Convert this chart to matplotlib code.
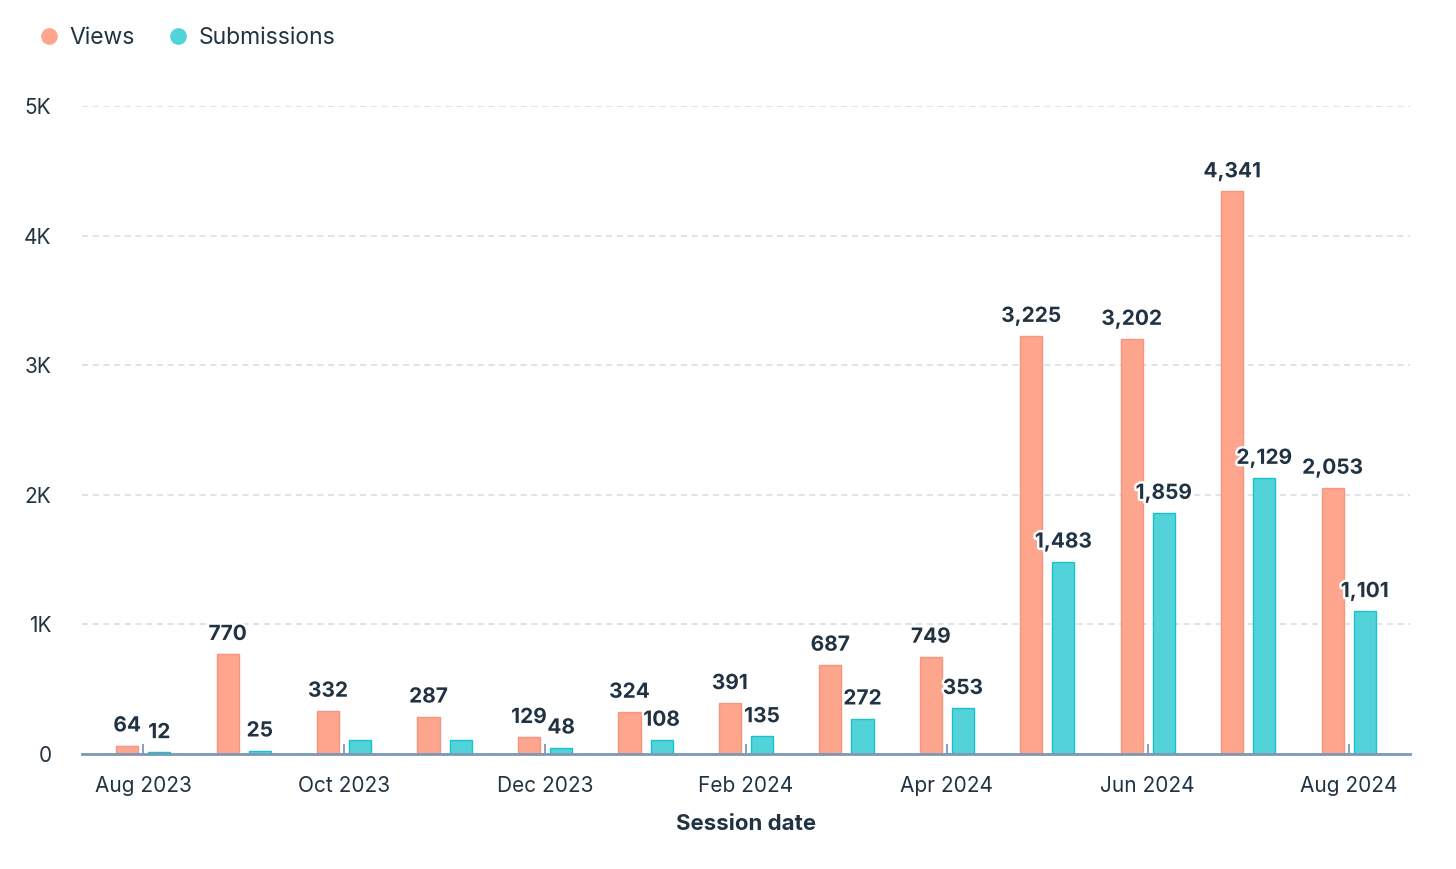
import matplotlib.pyplot as plt
import matplotlib.patheffects as pe
from matplotlib.lines import Line2D
import numpy as np

# data
months = ['Aug 2023', 'Sep 2023', 'Oct 2023', 'Nov 2023', 'Dec 2023', 'Jan 2024', 'Feb 2024',
          'Mar 2024', 'Apr 2024', 'May 2024', 'Jun 2024', 'Jul 2024', 'Aug 2024']
views = [64, 770, 332, 287, 129, 324, 391, 687, 749, 3225, 3202, 4341, 2053]
submissions = [12, 25, 110, 110, 48, 108, 135, 272, 353, 1483, 1859, 2129, 1101]
# submissions labels hidden in the reference (overlapping)
sub_hidden = [2, 3]
y_ticks = [0, 1000, 2000, 3000, 4000, 5000]
y_ticklabels = ['0', '1K', '2K', '3K', '4K', '5K']

plt.rcParams['font.family'] = ['Inter', 'DejaVu Sans']

text_color = '#213343'
axis_color = '#7C98B6'
views_color = '#FEA58E'
views_edge = '#F8957C'
subs_color = '#51D3D9'
subs_edge = '#17C3CB'

fig = plt.figure(figsize=(14.56, 8.69), dpi=100)
ax = fig.add_axes([0.0563, 0.1325, 0.9121, 0.7455])

x = np.arange(len(months))
w = 0.22
off = 0.16
ax.bar(x - off, views, w, color=views_color, edgecolor=views_edge, linewidth=1, zorder=3)
ax.bar(x + off, submissions, w, color=subs_color, edgecolor=subs_edge, linewidth=1, zorder=3)

stroke = [pe.withStroke(linewidth=3.5, foreground='white')]
for i, v in enumerate(views):
    ax.annotate(f'{v:,}', (x[i] - off, v), xytext=(0, 14.5), textcoords='offset points',
                ha='center', va='center', fontsize=15, fontweight='bold', color=text_color,
                path_effects=stroke, zorder=5)
for i, v in enumerate(submissions):
    if i in sub_hidden:
        continue
    ax.annotate(f'{v:,}', (x[i] + off, v), xytext=(0, 14.5), textcoords='offset points',
                ha='center', va='center', fontsize=15, fontweight='bold', color=text_color,
                path_effects=stroke, zorder=5)

ax.set_xlim(-0.61, len(months) - 1 + 0.61)
ax.set_ylim(0, 5000)
ax.set_yticks(y_ticks)
ax.set_yticklabels(y_ticklabels)
ax.set_xticks(x[::2])
ax.set_xticklabels(months[::2])

for s in ['top', 'right', 'left']:
    ax.spines[s].set_visible(False)
ax.spines['bottom'].set_color(axis_color)
ax.spines['bottom'].set_linewidth(2)
ax.spines['bottom'].set_zorder(4)

ax.tick_params(axis='y', length=0, pad=22, labelsize=15, labelcolor=text_color)
ax.tick_params(axis='x', direction='in', length=7, width=1.3, color=axis_color,
               pad=16, labelsize=15, labelcolor=text_color)
ax.yaxis.grid(True, linestyle=(0, (4, 3)), color='#D3DCE8', linewidth=1.1, zorder=0)
ax.set_axisbelow(True)

ax.set_xlabel('Session date', fontsize=16, fontweight='bold', color=text_color, labelpad=13)

# legend with round markers
handles = [Line2D([], [], marker='o', linestyle='', markersize=11, color=views_color),
           Line2D([], [], marker='o', linestyle='', markersize=11, color=subs_color)]
fig.legend(handles=handles, labels=['Views', 'Submissions'], loc='upper left',
           bbox_to_anchor=(0.013, 0.993), ncol=2, frameon=False, fontsize=16.5,
           handlelength=0.8, handletextpad=0.5, columnspacing=1.5, labelcolor=text_color)

fig.savefig('out.png', dpi=100)
